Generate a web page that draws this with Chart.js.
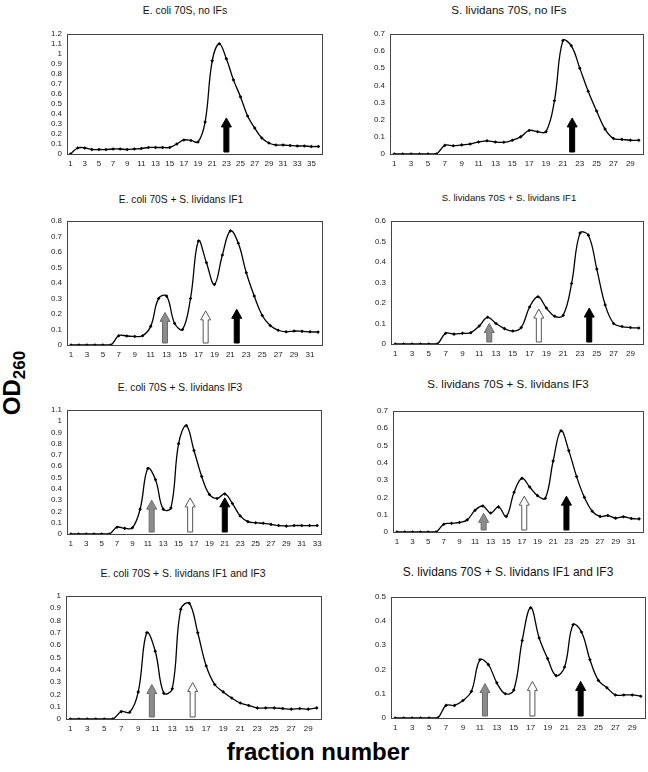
<!DOCTYPE html>
<html>
<head>
<meta charset="utf-8">
<script src="https://cdn.jsdelivr.net/npm/chart.js@4.4.1/dist/chart.umd.min.js"></script>
<style>
  body { margin: 0; background: #fff; width: 648px; height: 772px; position: relative; overflow: hidden; font-family: "Liberation Sans", Arial, sans-serif; }
  canvas { position: absolute; }
  .titulo { position: absolute; transform: translate(-50%, -50%); white-space: nowrap; color: #111; }
  #eixoY { position: absolute; left: 14px; top: 383px; transform: translate(-50%, -50%) rotate(-90deg); font-weight: bold; font-size: 24px; white-space: nowrap; color: #000; }
  #eixoY sub { font-size: 17px; }
  #eixoX { position: absolute; left: 318px; top: 752px; transform: translate(-50%, -50%); font-weight: bold; font-size: 24px; white-space: nowrap; color: #000; }
</style>
</head>
<body>
<div id="eixoY">OD<sub>260</sub></div>
<div id="eixoX">fraction number</div>
<script>
// titulos dos paineis
const titulos = [
  "E. coli 70S, no IFs",
  "S. lividans 70S, no IFs",
  "E. coli 70S + S. lividans IF1",
  "S. lividans 70S + S. lividans IF1",
  "E. coli 70S + S. lividans IF3",
  "S. lividans 70S + S. lividans IF3",
  "E. coli 70S + S. lividans IF1 and IF3",
  "S. lividans 70S + S. lividans IF1 and IF3"
];

// OD260 por fracao (fracao 1..n)
const valores1 = [0, 0.06, 0.06, 0.045, 0.045, 0.045, 0.05, 0.05, 0.045, 0.05, 0.055, 0.065, 0.065, 0.065, 0.065, 0.1, 0.14, 0.135, 0.12, 0.32, 0.93, 1.1, 0.95, 0.74, 0.57, 0.38, 0.26, 0.16, 0.11, 0.09, 0.09, 0.085, 0.08, 0.08, 0.075, 0.075];
const valores2 = [0, 0, 0, 0, 0, 0, 0.05, 0.048, 0.053, 0.058, 0.07, 0.077, 0.07, 0.068, 0.08, 0.1, 0.137, 0.13, 0.13, 0.31, 0.66, 0.63, 0.5, 0.365, 0.25, 0.145, 0.09, 0.085, 0.08, 0.08];
const valores3 = [0, 0, 0, 0, 0, 0, 0.06, 0.058, 0.055, 0.06, 0.12, 0.3, 0.315, 0.14, 0.1, 0.3, 0.67, 0.53, 0.39, 0.58, 0.735, 0.655, 0.465, 0.315, 0.19, 0.125, 0.095, 0.085, 0.09, 0.088, 0.085, 0.083];
const valores4 = [0, 0, 0, 0, 0, 0, 0.052, 0.048, 0.052, 0.055, 0.088, 0.13, 0.1, 0.075, 0.063, 0.08, 0.18, 0.23, 0.175, 0.135, 0.14, 0.295, 0.54, 0.53, 0.365, 0.19, 0.1, 0.085, 0.08, 0.078];
const valores5 = [0, 0, 0, 0, 0, 0, 0.06, 0.05, 0.055, 0.22, 0.58, 0.48, 0.22, 0.23, 0.8, 0.96, 0.74, 0.51, 0.35, 0.315, 0.355, 0.27, 0.16, 0.11, 0.1, 0.095, 0.085, 0.075, 0.07, 0.075, 0.075, 0.075, 0.075];
const valores6 = [0, 0, 0, 0, 0, 0, 0.045, 0.05, 0.055, 0.07, 0.125, 0.15, 0.11, 0.145, 0.09, 0.23, 0.31, 0.26, 0.21, 0.195, 0.41, 0.585, 0.47, 0.32, 0.2, 0.12, 0.09, 0.095, 0.08, 0.088, 0.078, 0.076];
const valores7 = [0, 0, 0, 0, 0, 0, 0.06, 0.055, 0.22, 0.7, 0.55, 0.21, 0.245, 0.89, 0.94, 0.7, 0.43, 0.28, 0.22, 0.17, 0.13, 0.11, 0.09, 0.09, 0.09, 0.085, 0.08, 0.085, 0.08, 0.09];
const valores8 = [0, 0, 0, 0, 0, 0, 0.052, 0.052, 0.072, 0.11, 0.24, 0.22, 0.145, 0.1, 0.115, 0.32, 0.455, 0.33, 0.245, 0.175, 0.21, 0.385, 0.355, 0.24, 0.155, 0.125, 0.095, 0.095, 0.095, 0.09];

const yMaximos = [1.2, 0.7, 0.8, 0.6, 1.1, 0.7, 1, 0.5];

// setas: [fracao, topo (OD260), tipo]
const setas1 = [[23, 0.36, "preta"]];
const setas2 = [[22.1, 0.21, "preta"]];
const setas3 = [[12.8, 0.21, "cinza"], [17.9, 0.22, "branca"], [21.8, 0.23, "preta"]];
const setas4 = [[12.2, 0.1, "cinza"], [18.1, 0.17, "branca"], [24.1, 0.175, "preta"]];
const setas5 = [[11.5, 0.3, "cinza"], [16.5, 0.32, "branca"], [21, 0.32, "preta"]];
const setas6 = [[12.1, 0.108, "cinza"], [17.3, 0.207, "branca"], [22.7, 0.207, "preta"]];
const setas7 = [[10.6, 0.28, "cinza"], [15.4, 0.296, "branca"]];
const setas8 = [[11.6, 0.142, "cinza"], [17.2, 0.151, "branca"], [22.9, 0.151, "preta"]];

// area de plotagem de cada painel [esq, topo, dir, base] e posicao do titulo
const areas = [
  [67, 32, 322, 154], [390, 32, 643, 154],
  [67, 219, 322, 345], [391, 219, 643, 344],
  [67, 408, 321, 534], [393, 409, 643, 532],
  [66, 594, 321, 719], [391, 595, 645, 718]
];
const posTitulos = [[185, 10, 10.4], [509, 9, 11.6], [181, 199, 10.2], [509, 197, 9.6], [180, 387, 10.2], [508, 384, 11.5], [183, 573, 10.4], [508, 572, 11.9]];

const todosValores = [valores1, valores2, valores3, valores4, valores5, valores6, valores7, valores8];
const todasSetas = [setas1, setas2, setas3, setas4, setas5, setas6, setas7, setas8];

const coresSeta = {
  preta: { fill: "#000", stroke: "#000" },
  cinza: { fill: "#8c8c8c", stroke: "#6a6a6a" },
  branca: { fill: "#fff", stroke: "#555" }
};

const pluginMoldura = {
  id: "moldura",
  beforeDatasetsDraw(chart, args, opts) {
    const { ctx, scales } = chart;
    (opts.setas || []).forEach(([fx, topo, tipo]) => {
      const x = scales.x.getPixelForValue(fx);
      const yTopo = scales.y.getPixelForValue(topo);
      const yBase = scales.y.getPixelForValue(0) - 2;
      const cor = coresSeta[tipo];
      ctx.save();
      ctx.beginPath();
      ctx.moveTo(x, yTopo);
      ctx.lineTo(x + 5, yTopo + 9);
      ctx.lineTo(x + 2.5, yTopo + 9);
      ctx.lineTo(x + 2.5, yBase);
      ctx.lineTo(x - 2.5, yBase);
      ctx.lineTo(x - 2.5, yTopo + 9);
      ctx.lineTo(x - 5, yTopo + 9);
      ctx.closePath();
      ctx.fillStyle = cor.fill;
      ctx.fill();
      ctx.lineWidth = 1;
      ctx.strokeStyle = cor.stroke;
      ctx.stroke();
      ctx.restore();
    });
  },
  afterDraw(chart) {
    const { ctx, chartArea: a } = chart;
    ctx.save();
    ctx.strokeStyle = "#444";
    ctx.lineWidth = 1;
    ctx.strokeRect(Math.round(a.left) + 0.5, Math.round(a.top) + 0.5, Math.round(a.right - a.left), Math.round(a.bottom - a.top));
    ctx.restore();
  }
};

const fonteTick = { family: "Liberation Sans", size: 8 };

todosValores.forEach((valores, i) => {
  const [esq, topo, dir, base] = areas[i];
  const n = valores.length;
  const ticksX = [];
  for (let f = 1; f <= n; f += 2) ticksX.push(f);

  const canvas = document.createElement("canvas");
  canvas.width = 40 + (dir - esq) + 12;
  canvas.height = 8 + (base - topo) + 20;
  canvas.style.left = (esq - 40) + "px";
  canvas.style.top = (topo - 8) + "px";
  document.body.appendChild(canvas);

  const [tx, ty, ts] = posTitulos[i];
  const div = document.createElement("div");
  div.className = "titulo";
  div.style.left = tx + "px";
  div.style.top = ty + "px";
  div.style.fontSize = ts + "px";
  div.textContent = titulos[i];
  document.body.appendChild(div);

  new Chart(canvas, {
    type: "line",
    data: {
      datasets: [{
        data: valores.map((v, k) => ({ x: k + 1, y: v })),
        borderColor: "#000",
        borderWidth: 1.3,
        tension: 0.4,
        fill: false,
        pointStyle: "rectRot",
        pointRadius: 1.8,
        pointBackgroundColor: "#000",
        pointBorderWidth: 0
      }]
    },
    options: {
      responsive: false,
      animation: false,
      layout: { padding: { top: 8, right: 12, left: 0, bottom: 0 } },
      plugins: { legend: { display: false }, tooltip: { enabled: false }, moldura: { setas: todasSetas[i] } },
      scales: {
        x: {
          type: "linear", min: 0.5, max: n + 0.5,
          grid: { display: false, drawTicks: false }, border: { display: false },
          afterBuildTicks: ax => { ax.ticks = ticksX.map(v => ({ value: v })); },
          afterFit: s => { s.height = 20; },
          ticks: { autoSkip: false, maxRotation: 0, padding: 5, color: "#222", font: fonteTick, callback: v => String(v) }
        },
        y: {
          min: 0, max: yMaximos[i],
          grid: { display: false, drawTicks: false }, border: { display: false },
          afterFit: s => { s.width = 40; },
          ticks: { stepSize: 0.1, autoSkip: false, padding: 5, color: "#222", font: fonteTick, callback: v => String(+v.toFixed(2)) }
        }
      }
    },
    plugins: [pluginMoldura]
  });
});
</script>
</body>
</html>
